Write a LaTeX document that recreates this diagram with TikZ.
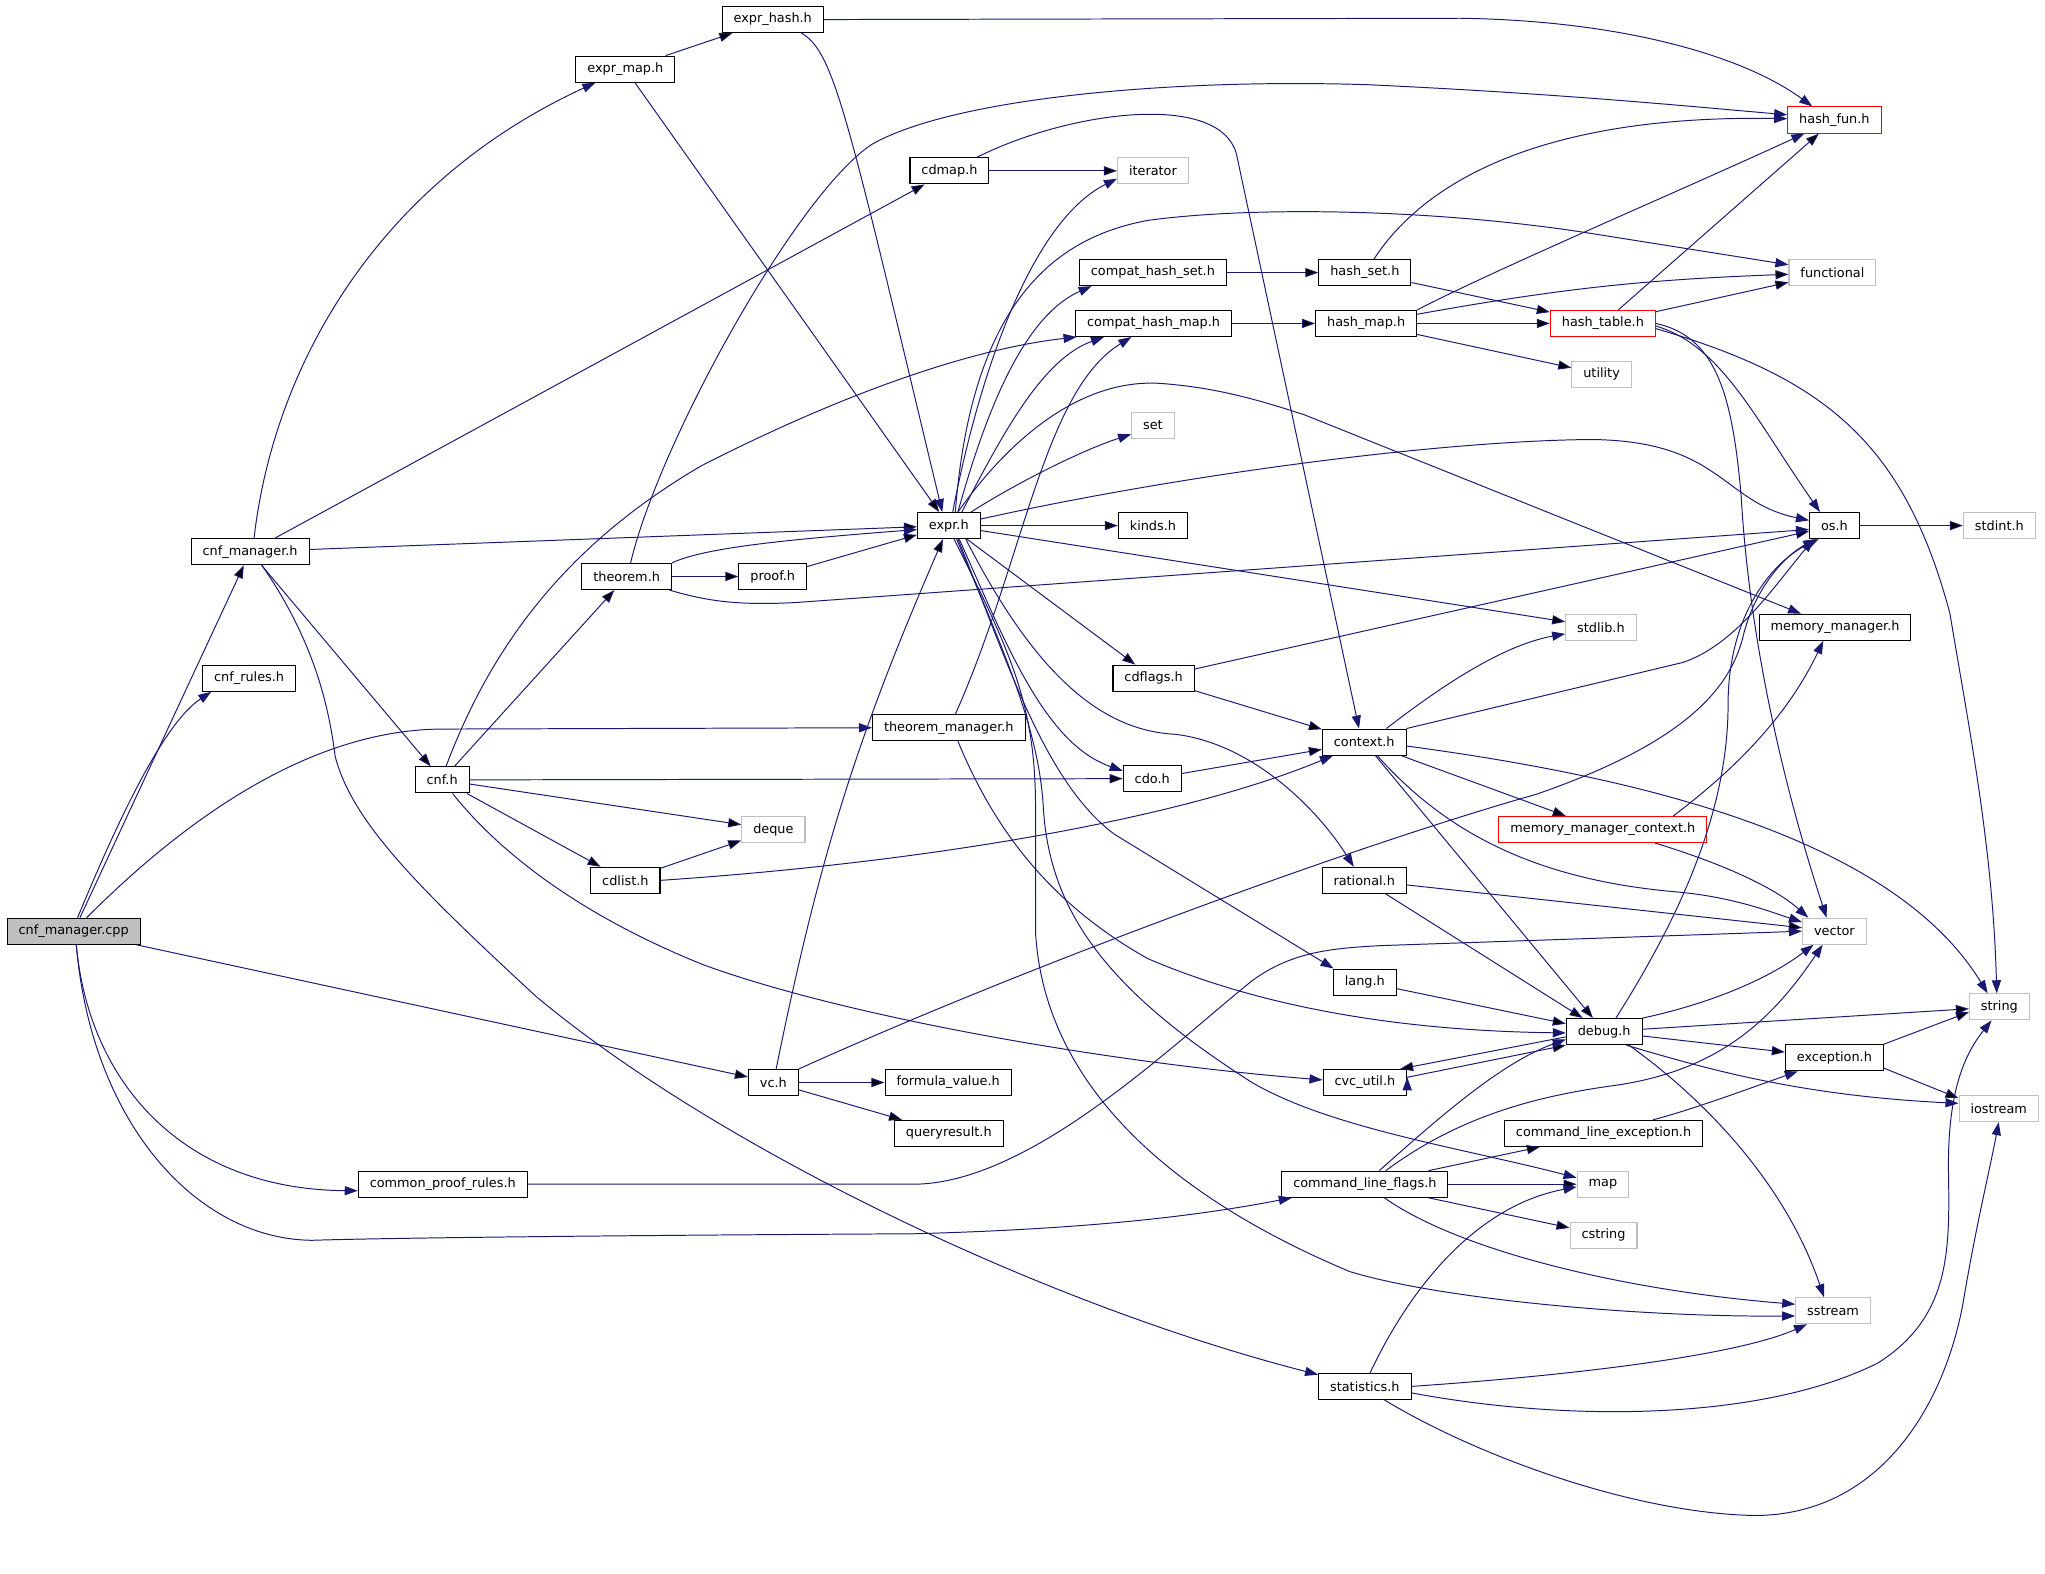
\documentclass[tikz,border=0pt]{standalone}
\usepackage{fontspec}
\newfontfamily\graphfont{DejaVu Sans}
\usetikzlibrary{arrows.meta}
\definecolor{edgeblue}{HTML}{191970}
\definecolor{sysgray}{HTML}{BFBFBF}
\tikzset{
>={Triangle[length=10pt,width=7pt]}, % filled heads as in the include graph
header/.style={draw=black, line width=0.8pt, inner xsep=8.8pt, inner ysep=0pt,
  minimum height=20pt, font=\graphfont\fontsize{9.85}{11}\selectfont},
sysheader/.style={header, draw=sysgray}, % system headers
redheader/.style={header, draw=red}, % truncated headers
rootheader/.style={header, fill=sysgray}, % the file itself
dep/.style={->, draw=edgeblue, line width=0.75pt},
}

\begin{document}
\begin{tikzpicture}[x=1pt, y=-1pt]
\useasboundingbox (0,0) rectangle (1568,1206.1);
        \node[rootheader] (cnfmanagercpp) at (56.5,714) {cnf\_manager.cpp};
        \node[header] (cnfmanager) at (191.8,423) {cnf\_manager.h};
        \node[header] (cnfrules) at (191,520) {cnf\_rules.h};
        \node[header] (exprmap) at (479.5,53) {expr\_map.h};
        \node[header] (exprhash) at (592.5,15) {expr\_hash.h};
        \node[header] (cdmap) at (728,131) {cdmap.h};
        \node[header] (theorem) at (480.5,442) {theorem.h};
        \node[header] (proof) at (592.5,442) {proof.h};
        \node[header] (expr) at (727.5,403) {expr.h};
        \node[header] (cnf) at (339,598) {cnf.h};
        \node[header] (theoremmanager) at (727.5,558) {theorem\_manager.h};
        \node[header] (cdlist) at (479.5,675) {cdlist.h};
        \node[sysheader] (deque) at (593,636) {deque};
        \node[header] (vc) at (593,830) {vc.h};
        \node[header] (formulavalue) at (727,830) {formula\_value.h};
        \node[header] (queryresult) at (727.5,869) {queryresult.h};
        \node[header] (commonproofrules) at (339.5,908) {common\_proof\_rules.h};
        \node[sysheader] (iterator) at (884,131) {iterator};
        \node[header] (compathashset) at (884,209) {compat\_hash\_set.h};
        \node[header] (compathashmap) at (884.5,248) {compat\_hash\_map.h};
        \node[sysheader] (set) at (884,326) {set};
        \node[header] (kinds) at (884,403) {kinds.h};
        \node[header] (cdflags) at (884.5,520) {cdflags.h};
        \node[header] (cdo) at (883.5,597) {cdo.h};
        \node[header] (hashset) at (1046.5,209) {hash\_set.h};
        \node[header] (hashmap) at (1047.5,248) {hash\_map.h};
        \node[header] (context) at (1046,569) {context.h};
        \node[header] (rational) at (1046,675) {rational.h};
        \node[header] (lang) at (1046.5,753) {lang.h};
        \node[header] (cvcutil) at (1046.5,830) {cvc\_util.h};
        \node[header] (cmdflags) at (1046.5,908) {command\_line\_flags.h};
        \node[header] (statistics) at (1046.5,1063) {statistics.h};
        \node[redheader] (hashfun) at (1406.5,92) {hash\_fun.h};
        \node[sysheader] (functional) at (1405,209) {functional};
        \node[redheader] (hashtable) at (1229,248) {hash\_table.h};
        \node[sysheader] (utility) at (1228,287) {utility};
        \node[header] (os) at (1406.5,403) {os.h};
        \node[sysheader] (stdint) at (1533,403) {stdint.h};
        \node[header] (memmgr) at (1407,481) {memory\_manager.h};
        \node[sysheader] (stdlib) at (1227.5,481) {stdlib.h};
        \node[redheader] (mmcontext) at (1229,636) {memory\_manager\_context.h};
        \node[sysheader] (vector) at (1406.5,714) {vector};
        \node[sysheader] (string) at (1533,772) {string};
        \node[header] (debug) at (1230,791) {debug.h};
        \node[header] (exception) at (1406.5,811) {exception.h};
        \node[sysheader] (iostream) at (1532.5,850) {iostream};
        \node[header] (cmdexception) at (1229.5,869) {command\_line\_exception.h};
        \node[sysheader] (map) at (1229,908) {map};
        \node[sysheader] (cstring) at (1229.5,947) {cstring};
        \node[sysheader] (sstream) at (1405.5,1005) {sstream};
        \draw[dep] (cnfmanagercpp) edge (cnfmanager)
        (cnfmanagercpp) edge (vc)
        (cnfmanager) edge (cdmap)
        (cnfmanager) edge (expr)
        (cnfmanager) edge (cnf)
        (exprmap) edge (exprhash)
        (exprmap) edge (expr)
        (cdmap) edge (iterator)
        (theorem) edge (proof)
        (proof) edge (expr)
        (cnf) edge (theorem)
        (cnf) edge (cdo)
        (cnf) edge (deque)
        (cnf) edge (cdlist)
        (cdlist) edge (deque)
        (vc) edge[bend left=6] (expr)
        (vc) edge (formulavalue)
        (vc) edge (queryresult)
        (expr) edge (kinds)
        (expr) edge (stdlib)
        (expr) edge (cdflags)
        (compathashset) edge (hashset)
        (compathashmap) edge (hashmap)
        (hashset) edge (hashtable)
        (hashmap) edge (hashtable)
        (hashmap) edge (utility)
        (hashmap) edge[bend left=4] (functional)
        (hashtable) edge (hashfun)
        (hashtable) edge (functional)
        (cdflags) edge (os)
        (cdflags) edge (context)
        (cdo) edge (context)
        (context) edge (mmcontext)
        (context) edge (debug)
        (rational) edge (vector)
        (rational) edge (debug)
        (lang) edge (debug)
        (debug) edge (string)
        (debug) edge (exception)
        (cmdflags) edge (cmdexception)
        (cmdflags) edge (map)
        (cmdflags) edge (cstring)
        (os) edge (stdint)
        (exception.north east) edge ([yshift=-4pt]string.west)
        ([yshift=-8pt]exception.east) edge ([yshift=8pt]iostream.west)
        ([yshift=-4pt]debug.west) edge ([xshift=27pt]cvcutil.north)
        ([yshift=4pt]cvcutil.east) edge (debug.south west)
        ;
        \draw[dep] ([xshift=3pt]cnfmanagercpp.north) .. controls (90,630) and (125,555) .. ([xshift=-29pt]cnfrules.south);
        \draw[dep] ([xshift=10pt]cnfmanagercpp.north) .. controls (130,640) and (230,559) .. (340,559) -- (theoremmanager.west);
        \draw[dep] ([xshift=2pt]cnfmanagercpp.south) .. controls (68,830) and (140,912) .. ([yshift=-5pt]commonproofrules.west);
        \draw[dep] ([xshift=2pt]cnfmanagercpp.south) .. controls (70,860) and (150,950) .. (239,951) .. controls (300,949) and (500,947) .. (700,946) .. controls (850,942) and (930,930) .. ([xshift=-56pt]cmdflags.south);
        \draw[dep] ([xshift=3pt]cnfmanager.north) .. controls (210,280) and (290,140) .. ([xshift=-23pt]exprmap.south);
        \draw[dep] ([xshift=9pt]cnfmanager.south) .. controls (240,490) and (252,540) .. (257,580) .. controls (270,630) and (320,680) .. (411,764) .. controls (550,880) and (800,1000) .. ([yshift=9pt]statistics.west);
        \draw[dep] (exprhash.east) -- (1120,14) .. controls (1250,16) and (1340,45) .. ([xshift=-17pt]hashfun.north);
        \draw[dep] ([xshift=22pt]exprhash.south) .. controls (640,40) and (650,90) .. ([xshift=-5pt]expr.north);
        \draw[dep] ([xshift=21pt]cdmap.north) .. controls (820,85) and (935,70) .. (948,118) -- ([xshift=-4pt]context.north);
        \draw[dep] ([xshift=3pt]theorem.north) .. controls (505,340) and (610,150) .. (668,111) .. controls (730,75) and (900,60) .. (1050,65) .. controls (1200,72) and (1300,82) .. ([yshift=4pt]hashfun.west);
        \draw[dep] (theorem.north east) .. controls (540,420) and (600,414) .. ([yshift=-3pt]expr.west);
        \draw[dep] ([xshift=-2pt]theorem.south east) .. controls (545,462) and (570,464) .. (610,462) -- ([yshift=-3pt]os.west);
        \draw[dep] ([xshift=3pt]cnf.north) .. controls (375,500) and (430,420) .. (538,357) .. controls (640,305) and (740,268) .. ([xshift=-59pt]compathashmap.south);
        \draw[dep] ([xshift=8pt]cnf.south) .. controls (380,650) and (440,700) .. (540,740) .. controls (650,780) and (850,815) .. ([yshift=2pt]cvcutil.west);
        \draw[dep] (cdlist.east) .. controls (700,662) and (900,630) .. ([xshift=-24pt]context.south);
        \draw[dep] ([xshift=5pt]theoremmanager.north) .. controls (785,430) and (800,300) .. ([xshift=-17pt]compathashmap.south);
        \draw[dep] ([xshift=7pt]theoremmanager.south) .. controls (760,630) and (800,690) .. (880,735) .. controls (950,765) and (1050,790) .. ([yshift=-1pt]debug.west);
        \draw[dep] (vc.north east) .. controls (800,735) and (1050,645) .. (1178,609) .. controls (1290,570) and (1325,530) .. (1336,490) .. controls (1345,450) and (1370,425) .. ([xshift=-14pt]os.south);
        \draw[dep] (commonproofrules.east) -- (700,908) .. controls (790,908) and (900,800) .. (960,752) .. controls (990,730) and (1020,727) .. (1060,725) -- (vector.west);
        \draw[dep] ([xshift=3pt]expr.north) .. controls (750,290) and (790,170) .. ([yshift=-6pt]iterator.west);
        \draw[dep] ([xshift=5pt]expr.north) .. controls (745,230) and (810,182) .. (880,169) .. controls (960,158) and (1100,160) .. (1220,179) -- ([yshift=6pt]functional.west);
        \draw[dep] ([xshift=7pt]expr.north) .. controls (760,300) and (790,240) .. ([xshift=-47pt]compathashset.south);
        \draw[dep] ([xshift=10pt]expr.north) .. controls (770,330) and (800,275) .. ([xshift=-38pt]compathashmap.south);
        \draw[dep] ([xshift=17pt]expr.north) .. controls (780,370) and (830,345) .. ([yshift=-7pt]set.west);
        \draw[dep] ([xshift=7pt]expr.north) .. controls (775,335) and (830,290) .. (890,294) .. controls (930,297) and (960,305) .. (1000,318) -- ([xshift=-26pt]memmgr.north);
        \draw[dep] ([yshift=5pt]expr.east) .. controls (900,365) and (1100,338) .. (1220,337) .. controls (1320,338) and (1320,385) .. ([yshift=4pt]os.west);
        \draw[dep] ([xshift=8pt]expr.south) .. controls (770,490) and (800,570) .. ([yshift=6pt]cdo.west);
        \draw[dep] ([xshift=13pt]expr.south) .. controls (790,510) and (840,560) .. (901,563) .. controls (960,570) and (1010,620) .. ([xshift=-8pt]rational.north);
        \draw[dep] ([xshift=7pt]expr.south) .. controls (770,500) and (800,600) .. (855,640) -- ([xshift=-24pt]lang.north);
        \draw[dep] ([xshift=6pt]expr.south) .. controls (770,500) and (797,560) .. (800,620) .. controls (805,700) and (850,760) .. (960,830) .. controls (1020,865) and (1120,880) .. ([yshift=5pt]map.west);
        \draw[dep] ([xshift=4pt]expr.south) .. controls (775,500) and (794,540) .. (794,620) -- (794,715) .. controls (800,820) and (880,910) .. (1035,975) .. controls (1100,995) and (1250,1010) .. ([yshift=-4pt]sstream.west);
        \draw[dep] ([xshift=7pt]hashset.north) .. controls (1095,135) and (1190,88) .. ([yshift=1pt]hashfun.west);
        \draw[dep] (hashmap.north east) .. controls (1150,205) and (1280,150) .. ([xshift=-23pt]hashfun.south);
        \draw[dep] ([yshift=-2pt]hashtable.east) .. controls (1320,265) and (1345,320) .. ([xshift=-11pt]os.north);
        \draw[dep] (hashtable.east) .. controls (1315,258) and (1328,300) .. (1335,380) .. controls (1340,470) and (1360,580) .. ([xshift=-6pt]vector.north);
        \draw[dep] ([yshift=-4pt]hashtable.east) .. controls (1400,290) and (1460,340) .. (1495,470) .. controls (1510,560) and (1528,650) .. ([xshift=-2pt]string.north);
        \draw[dep] ([xshift=17pt]context.north) .. controls (1100,530) and (1150,495) .. ([yshift=-5pt]stdlib.west);
        \draw[dep] (context.north east) -- (1290,508) .. controls (1330,495) and (1360,450) .. ([xshift=-16pt]os.south);
        \draw[dep] ([yshift=-3pt]context.east) .. controls (1250,595) and (1450,640) .. ([xshift=-9pt]string.north);
        \draw[dep] ([xshift=10pt]context.south) .. controls (1110,640) and (1180,675) .. (1287,684) .. controls (1330,688) and (1360,700) .. ([yshift=7pt]vector.west);
        \draw[dep] ([xshift=54pt]mmcontext.north) .. controls (1330,590) and (1370,550) .. ([xshift=-9pt]memmgr.south);
        \draw[dep] ([xshift=40pt]mmcontext.south) .. controls (1320,662) and (1360,680) .. ([xshift=-20pt]vector.north);
        \draw[dep] ([xshift=9pt]debug.north) .. controls (1290,700) and (1325,620) .. (1325,540) .. controls (1325,470) and (1360,430) .. ([xshift=-12pt]os.south);
        \draw[dep] (debug.north east) .. controls (1300,772) and (1350,755) .. ([xshift=-16pt]vector.south);
        \draw[dep] ([xshift=17pt]debug.south) .. controls (1310,820) and (1380,840) .. ([yshift=4pt]iostream.west);
        \draw[dep] ([xshift=19pt]debug.south) .. controls (1310,845) and (1370,910) .. ([xshift=-7pt]sstream.north);
        \draw[dep] ([xshift=38pt]cmdexception.north) .. controls (1300,850) and (1340,835) .. ([xshift=-28pt]exception.south);
        \draw[dep] ([xshift=11pt]cmdflags.north) .. controls (1100,860) and (1150,815) .. ([yshift=-6pt]debug.west);
        \draw[dep] ([xshift=16pt]cmdflags.north) .. controls (1120,855) and (1180,840) .. (1240,832) .. controls (1320,820) and (1360,780) .. ([xshift=-9pt]vector.south);
        \draw[dep] ([xshift=15pt]cmdflags.south) .. controls (1120,960) and (1250,990) .. ([yshift=5pt]sstream.west);
        \draw[dep] ([xshift=4pt]statistics.north) .. controls (1080,990) and (1130,925) .. ([yshift=-2pt]map.west);
        \draw[dep] (statistics.east) .. controls (1200,1055) and (1330,1040) .. ([xshift=-20pt]sstream.south);
        \draw[dep] ([yshift=-5pt]statistics.east) .. controls (1200,1090) and (1350,1090) .. (1440,1045) .. controls (1495,1010) and (1495,960) .. (1494,900) .. controls (1493,840) and (1505,810) .. ([xshift=-6pt]string.south);
        \draw[dep] ([xshift=15pt]statistics.south) .. controls (1130,1115) and (1250,1160) .. (1345,1162) .. controls (1440,1162) and (1490,1080) .. (1505,1000) .. controls (1515,940) and (1525,900) .. (iostream.south);
\end{tikzpicture}
\end{document}
